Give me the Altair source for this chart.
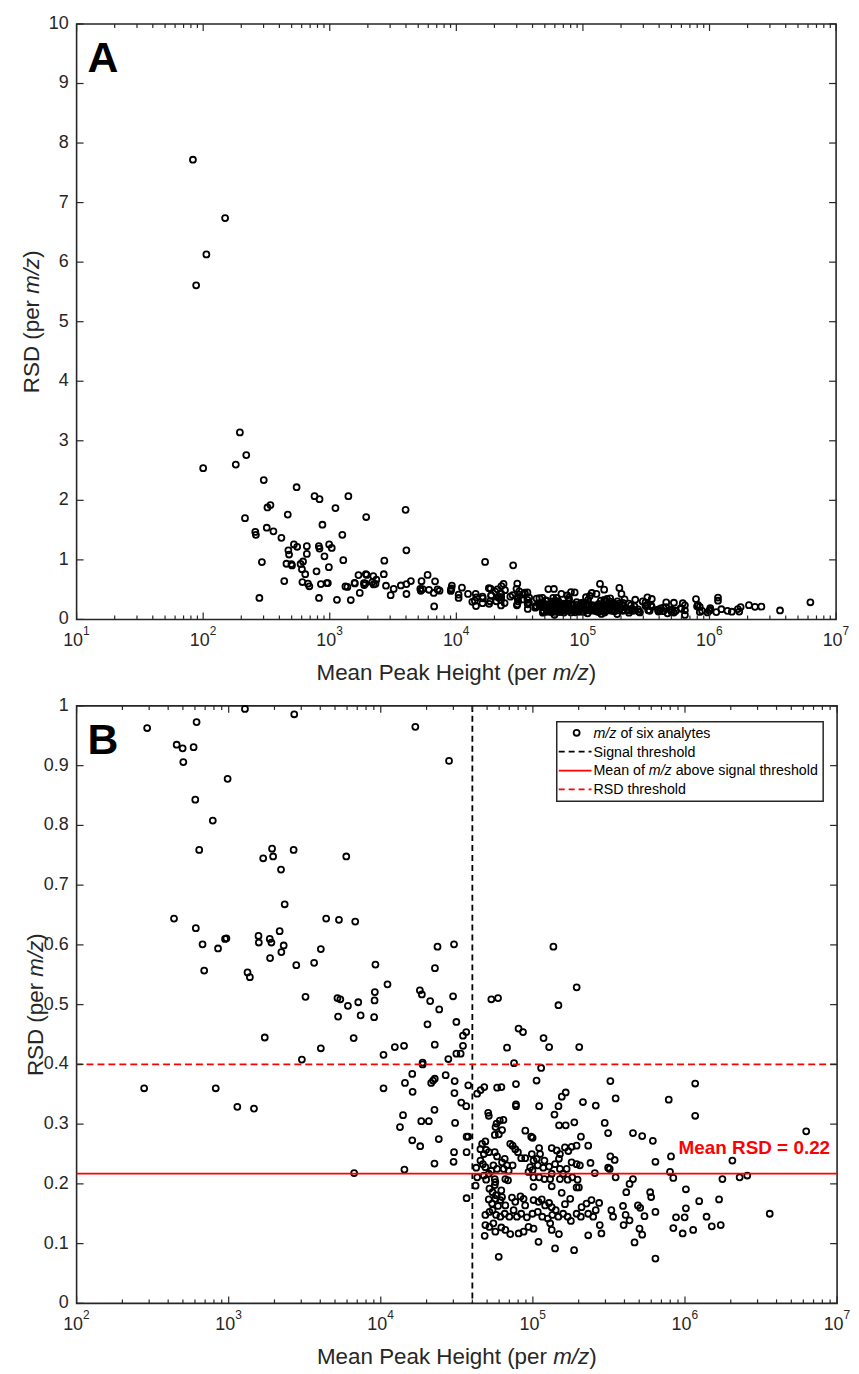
import altair as alt
import pandas as pd

# ---------------- data ----------------
# (mean peak height, RSD) -- points with RSD > 1, visible only in panel A
high_rsd = [(83, 7.72), (149, 6.74), (106, 6.13), (88, 5.61), (195, 3.14), (100, 2.54), (181, 2.60),
            (219, 2.76), (301, 2.34), (547, 2.22), (758, 2.07), (830, 2.02), (1403, 2.07), (1109, 1.87),
            (322, 1.88), (340, 1.92), (3972, 1.84), (214, 1.70), (466, 1.76), (1940, 1.72), (875, 1.59),
            (258, 1.47), (261, 1.42), (318, 1.54), (359, 1.48), (1257, 1.42), (415, 1.37), (521, 1.26),
            (471, 1.16), (477, 1.09), (553, 1.22), (659, 1.23), (659, 1.10), (820, 1.23), (830, 1.19),
            (989, 1.26), (1037, 1.20), (4029, 1.16), (908, 1.06)]

low_signal_1 = [(1279, 0.995), (2698, 0.986), (291, 0.963), (615, 0.973), (455, 0.935), (498, 0.929),
                (588, 0.931), (503, 0.906), (984, 0.878), (603, 0.843), (786, 0.808), (640, 0.759),
                (1928, 0.761), (1686, 0.745), (1959, 0.748), (2672, 0.759), (2208, 0.726), (2334, 0.668),
                (437, 0.644), (608, 0.628), (4373, 0.644), (673, 0.601), (851, 0.594), (946, 0.610),
                (966, 0.611), (1570, 0.615), (1578, 0.604), (1862, 0.610), (1909, 0.604), (2163, 0.623),
                (2299, 0.599), (2220, 0.588), (1871, 0.578), (2782, 0.566), (3645, 0.570), (4035, 0.593),
                (690, 0.557), (1330, 0.554), (1378, 0.546), (3199, 0.513), (1726, 0.445), (4035, 0.427),
                (3028, 0.408), (278, 0.360), (822, 0.360), (1140, 0.329), (1466, 0.326)]

low_signal_2 = [(16870, 0.965), (28100, 0.908), (5930, 0.748), (5309, 0.642), (6790, 0.639), (23600, 0.597),
                (30300, 0.601), (9220, 0.567), (22700, 0.561), (11070, 0.534), (5190, 0.511), (5420, 0.509),
                (6080, 0.498), (7110, 0.504), (9140, 0.521), (9100, 0.507), (5240, 0.480), (7370, 0.482),
                (9040, 0.479), (6630, 0.444), (18070, 0.524), (18620, 0.517), (21120, 0.506), (29870, 0.514),
                (24220, 0.492), (20280, 0.467), (31400, 0.471), (34700, 0.448), (36450, 0.454), (34700, 0.431),
                (10420, 0.416), (12370, 0.429), (14220, 0.431), (22640, 0.433), (31400, 0.418), (33500, 0.418),
                (27800, 0.409), (18840, 0.403), (18840, 0.400), (16100, 0.384), (14420, 0.369), (16190, 0.354),
                (10420, 0.360), (21440, 0.369), (22060, 0.373), (22640, 0.376), (26700, 0.382), (30600, 0.372),
                (30500, 0.352), (37600, 0.365), (33800, 0.336), (36450, 0.330), (14000, 0.315), (13370, 0.295),
                (18450, 0.305), (20700, 0.305), (22540, 0.324), (30800, 0.302), (16100, 0.273), (18160, 0.263),
                (24060, 0.275), (30300, 0.253), (30100, 0.237), (22540, 0.234), (14300, 0.224), (6680, 0.218),
                (36650, 0.279), (37500, 0.279), (36650, 0.253), (36650, 0.176)]

above_signal_1 = [(42000, 0.197), (42400, 0.227), (53300, 0.509), (59000, 0.511), (147200, 0.499),
                  (80500, 0.460), (86100, 0.454), (117500, 0.444), (127900, 0.429), (67600, 0.428),
                  (201700, 0.429), (75200, 0.402), (113300, 0.394), (105700, 0.373), (43000, 0.351),
                  (45300, 0.357), (47900, 0.362), (58200, 0.361), (62100, 0.362), (77400, 0.367),
                  (77400, 0.333), (77400, 0.330), (109900, 0.330), (50800, 0.319), (51300, 0.314),
                  (138600, 0.316), (147300, 0.330), (154900, 0.346), (164400, 0.353), (213400, 0.337),
                  (148600, 0.298), (164400, 0.298), (187300, 0.303), (57700, 0.301), (60600, 0.306),
                  (64000, 0.307), (56800, 0.295), (62700, 0.290), (56200, 0.282), (59700, 0.283),
                  (89200, 0.289), (97500, 0.279), (99600, 0.277), (207000, 0.279), (194000, 0.529),
                  (136400, 0.597)]

above_signal_2 = [(46400, 0.267), (48700, 0.271), (45200, 0.258), (49270, 0.257), (47600, 0.250),
                  (51300, 0.253), (56150, 0.253), (58130, 0.246), (71000, 0.267), (73600, 0.264),
                  (76600, 0.258), (79730, 0.253), (83800, 0.243), (89000, 0.243), (98400, 0.250),
                  (101000, 0.239), (106100, 0.242), (109900, 0.260), (111500, 0.250), (119100, 0.239),
                  (133000, 0.260), (143400, 0.256), (150600, 0.250), (148300, 0.242), (162500, 0.261),
                  (171000, 0.255), (179700, 0.262), (193800, 0.264),
                  (45200, 0.239), (46900, 0.233), (48700, 0.228), (53300, 0.222), (55000, 0.231),
                  (58130, 0.225), (62690, 0.236), (65300, 0.242), (67580, 0.231), (64300, 0.225),
                  (69300, 0.222), (73600, 0.231), (96000, 0.228), (99400, 0.223), (107700, 0.231),
                  (117000, 0.227), (127800, 0.229), (139900, 0.233), (150600, 0.225), (166700, 0.225),
                  (179700, 0.236), (193800, 0.233), (203700, 0.231)]

above_signal_3 = [(43050, 0.211), (47600, 0.214), (49270, 0.207), (51300, 0.217), (56150, 0.208),
                  (56650, 0.203), (65900, 0.208), (68600, 0.206), (93600, 0.220), (101000, 0.211),
                  (109900, 0.211), (119100, 0.208), (129900, 0.208), (133000, 0.217), (150600, 0.208),
                  (158000, 0.217), (169300, 0.207), (181500, 0.211), (196700, 0.207),
                  (51800, 0.192), (54300, 0.186), (56150, 0.198), (57270, 0.181), (62000, 0.189),
                  (101000, 0.195), (133000, 0.196), (154600, 0.185), (193800, 0.194), (200600, 0.194)]

above_signal_4 = [(51300, 0.174), (53900, 0.167), (56650, 0.175), (59020, 0.163), (61100, 0.173),
                  (62690, 0.178), (65900, 0.164), (72850, 0.177), (76600, 0.170), (82900, 0.179),
                  (86900, 0.175), (89000, 0.164), (101000, 0.173), (108900, 0.170), (114400, 0.174),
                  (120300, 0.164), (127800, 0.168), (133000, 0.161), (141300, 0.156), (162500, 0.166),
                  (176000, 0.175), (208900, 0.161),
                  (48700, 0.148), (51800, 0.153), (54300, 0.156), (57270, 0.148), (61100, 0.145),
                  (65300, 0.150), (70000, 0.145), (74700, 0.156), (78520, 0.145), (83800, 0.150),
                  (91300, 0.144), (99400, 0.150), (107700, 0.153), (115200, 0.145), (125300, 0.142),
                  (134300, 0.148), (147000, 0.145), (158000, 0.150), (169300, 0.145), (177700, 0.138),
                  (193800, 0.150), (206800, 0.145),
                  (48700, 0.131), (51800, 0.128), (55000, 0.134), (56650, 0.120), (62000, 0.127),
                  (65900, 0.123), (71000, 0.116), (80600, 0.117), (86900, 0.120), (93600, 0.128),
                  (101000, 0.125), (129900, 0.134), (133000, 0.123), (148300, 0.116), (48200, 0.113),
                  (108900, 0.103), (139900, 0.092), (186600, 0.089), (59600, 0.078)]

above_signal_5 = [(323200, 0.372), (1167000, 0.368), (259000, 0.331), (350000, 0.343), (782000, 0.341),
                  (1167000, 0.314), (296700, 0.302), (312300, 0.285), (455000, 0.285), (523200, 0.280),
                  (614800, 0.272), (231100, 0.264), (323200, 0.246), (344900, 0.240), (239200, 0.235),
                  (312300, 0.227), (319900, 0.225), (639300, 0.237), (809300, 0.246), (2049000, 0.239),
                  (255300, 0.218), (350000, 0.211), (455000, 0.208), (432100, 0.200), (411200, 0.186),
                  (797300, 0.220), (837900, 0.210), (1762000, 0.208), (2287000, 0.211), (1014000, 0.191),
                  (590200, 0.186), (599100, 0.178), (242800, 0.173), (272700, 0.168), (225200, 0.167),
                  (259000, 0.156), (231100, 0.150), (249200, 0.145), (275200, 0.131), (282300, 0.117),
                  (231100, 0.114), (328100, 0.156), (336700, 0.145), (391300, 0.163), (407000, 0.148),
                  (432100, 0.139), (394900, 0.131), (490300, 0.164), (507600, 0.160), (541600, 0.146),
                  (639300, 0.153), (502300, 0.125), (523200, 0.115), (465900, 0.102), (639300, 0.075),
                  (873000, 0.144), (994800, 0.144), (1014000, 0.159), (837900, 0.126), (965400, 0.117),
                  (1132000, 0.123), (1240000, 0.171), (1386000, 0.145), (1500000, 0.129), (1718000, 0.131),
                  (1675000, 0.174), (6266000, 0.288), (2568000, 0.214), (3607000, 0.150)]

signal_threshold = 4.0e4
mean_rsd = 0.217
rsd_threshold = 0.4

decades_a = [1e1, 1e2, 1e3, 1e4, 1e5, 1e6, 1e7]
exponents_a = ["1", "2", "3", "4", "5", "6", "7"]
decades_b = [1e2, 1e3, 1e4, 1e5, 1e6, 1e7]
exponents_b = ["2", "3", "4", "5", "6", "7"]
minor_mult = [2, 3, 4, 5, 6, 7, 8, 9]
yticks_a = [0, 1, 2, 3, 4, 5, 6, 7, 8, 9, 10]
ylabels_a = ["0", "1", "2", "3", "4", "5", "6", "7", "8", "9", "10"]
yticks_b = [0, 0.1, 0.2, 0.3, 0.4, 0.5, 0.6, 0.7, 0.8, 0.9, 1]
ylabels_b = ["0", "0.1", "0.2", "0.3", "0.4", "0.5", "0.6", "0.7", "0.8", "0.9", "1"]

# ---------------- chart ----------------
FONT = "Liberation Sans"
AX = "#262626"
RED = "#FF0000"
PT_SIZE = 36
PT_STROKE = 1.8

all_points = (high_rsd + low_signal_1 + low_signal_2 + above_signal_1 + above_signal_2
              + above_signal_3 + above_signal_4 + above_signal_5)
df = pd.DataFrame(all_points, columns=["height", "rsd"])
one = pd.DataFrame({"k": [0]})


def txt(s, x, y, size, italic=False, bold=False, align="left", angle=None, color=AX):
    kw = dict(text=s, font=FONT, fontSize=size, color=color, align=align, baseline="alphabetic")
    if italic:
        kw["fontStyle"] = "italic"
    if bold:
        kw["fontWeight"] = "bold"
    if angle is not None:
        kw["angle"] = angle
    return alt.Chart(one).mark_text(**kw).encode(x=alt.value(x), y=alt.value(y))


def panel(W, H, xdom, ydom, dec, exps, yt, ylab, letter, letter_x, ytitle_x, only_low=False):
    xs = alt.Scale(type="log", domain=xdom, nice=False)
    ys = alt.Scale(domain=ydom, nice=False)
    src = alt.Chart(df)
    if only_low:
        src = src.transform_filter("datum.rsd <= 1")
    pts = src.mark_point(shape="circle", filled=False, size=PT_SIZE, strokeWidth=PT_STROKE,
                         color="black", opacity=1).encode(
        x=alt.X("height:Q", scale=xs, axis=None),
        y=alt.Y("rsd:Q", scale=ys, axis=None))
    dec_df = pd.DataFrame({"v": dec, "e": exps})
    minor_df = pd.DataFrame({"v": [m * d for d in dec[:-1] for m in minor_mult]})
    yt_df = pd.DataFrame({"v": yt, "lab": ylab})

    def xrule(d, y1, y2):
        return alt.Chart(d).mark_rule(color=AX, strokeWidth=1.2).encode(
            x=alt.X("v:Q", scale=xs, axis=None), y=alt.value(y1), y2=alt.value(y2))

    def yrule(x1, x2):
        return alt.Chart(yt_df).mark_rule(color=AX, strokeWidth=1.2).encode(
            y=alt.Y("v:Q", scale=ys, axis=None), x=alt.value(x1), x2=alt.value(x2))

    ticks = [xrule(dec_df, H, H - 7), xrule(dec_df, 0, 7), xrule(minor_df, H, H - 4),
             xrule(minor_df, 0, 4), yrule(0, 7), yrule(W, W - 7)]
    ylabels = alt.Chart(yt_df).mark_text(font=FONT, fontSize=18, color=AX, align="right",
                                         baseline="middle").encode(
        y=alt.Y("v:Q", scale=ys, axis=None), x=alt.value(-8), text="lab:N")
    lab10 = alt.Chart(dec_df).mark_text(text="10", font=FONT, fontSize=18, color=AX, align="center",
                                        baseline="alphabetic", dx=-3.5).encode(
        x=alt.X("v:Q", scale=xs, axis=None), y=alt.value(H + 27))
    labexp = alt.Chart(dec_df).mark_text(font=FONT, fontSize=12, color=AX, align="left",
                                         baseline="alphabetic", dx=6.5).encode(
        x=alt.X("v:Q", scale=xs, axis=None), y=alt.value(H + 16), text="e:N")
    # x title: "Mean Peak Height (per m/z)"
    fs = 22.5
    start = W / 2 - 12.504 * fs / 2
    mz_x = start + 10.56 * fs
    xt = [txt("Mean Peak Height (per", start, H + 61, fs),
          txt("m/z", mz_x, H + 61, fs, italic=True),
          txt(")", mz_x + 1.611 * fs, H + 61, fs)]
    # y title: "RSD (per m/z)" rotated
    bottom = H / 2 + 6.389 * fs / 2
    mz_y = bottom - 4.445 * fs
    yt_t = [txt("RSD (per", ytitle_x, bottom, fs, angle=270),
            txt("m/z", ytitle_x, mz_y, fs, italic=True, angle=270),
            txt(")", ytitle_x, mz_y - 1.611 * fs, fs, angle=270)]
    let = txt(letter, letter_x, 48, 43, bold=True, color="black")
    return xs, ys, [pts] + ticks + [ylabels, lab10, labexp] + xt + yt_t + [let]


WA, HA = 764, 599
WB, HB = 765, 601

_, _, layers_a = panel(WA, HA, [10, 1e7], [0, 10], decades_a, exponents_a, yticks_a, ylabels_a,
                       "A", 11, -38)
chart_a = alt.layer(*layers_a).properties(width=WA, height=HA)

xs_b, ys_b, layers_b = panel(WB, HB, [100, 1e7], [0, 1], decades_b, exponents_b, yticks_b, ylabels_b,
                             "B", 11, -34, only_low=True)

vline = alt.Chart(pd.DataFrame({"x": [signal_threshold]})).mark_rule(
    color="black", strokeDash=[6, 4], strokeWidth=1.8).encode(x=alt.X("x:Q", scale=xs_b, axis=None))
hmean = alt.Chart(pd.DataFrame({"y": [mean_rsd]})).mark_rule(color=RED, strokeWidth=1.8).encode(
    y=alt.Y("y:Q", scale=ys_b, axis=None))
hrsd = alt.Chart(pd.DataFrame({"y": [rsd_threshold]})).mark_rule(
    color=RED, strokeWidth=1.8, strokeDash=[7, 4]).encode(y=alt.Y("y:Q", scale=ys_b, axis=None))
mean_label = txt("Mean RSD = 0.22", WB - 7, 451, 19, bold=True, align="right", color=RED)

# legend (panel B)
lg_box = alt.Chart(one).mark_rect(fill="white", stroke=AX, strokeWidth=1.5).encode(
    x=alt.value(483), x2=alt.value(751), y=alt.value(16), y2=alt.value(96))
lg_pt = alt.Chart(one).mark_point(shape="circle", filled=False, size=PT_SIZE, strokeWidth=PT_STROKE,
                                  color="black", opacity=1).encode(x=alt.value(503), y=alt.value(27))
lg_l1 = alt.Chart(one).mark_rule(color="black", strokeWidth=1.8, strokeDash=[6, 4]).encode(
    x=alt.value(485), x2=alt.value(518), y=alt.value(46))
lg_l2 = alt.Chart(one).mark_rule(color=RED, strokeWidth=1.8).encode(
    x=alt.value(485), x2=alt.value(518), y=alt.value(65))
lg_l3 = alt.Chart(one).mark_rule(color=RED, strokeWidth=1.8, strokeDash=[6, 4]).encode(
    x=alt.value(485), x2=alt.value(518), y=alt.value(84))
LF = 14.3
lg_txt = [txt("m/z", 520, 32, LF, italic=True, color="black"),
          txt("of six analytes", 520 + 1.889 * LF, 32, LF, color="black"),
          txt("Signal threshold", 520, 51, LF, color="black"),
          txt("Mean of", 520, 70, LF, color="black"),
          txt("m/z", 520 + 3.891 * LF, 70, LF, italic=True, color="black"),
          txt("above signal threshold", 520 + (3.891 + 1.889) * LF, 70, LF, color="black"),
          txt("RSD threshold", 520, 89, LF, color="black")]

chart_b = alt.layer(*(layers_b[:1] + [vline, hmean, hrsd] + layers_b[1:] + [mean_label, lg_box, lg_pt,
                                                                              lg_l1, lg_l2, lg_l3] + lg_txt)
                    ).properties(width=WB, height=HB)

chart = alt.concat(chart_a, chart_b, columns=1, spacing=10, align="none").properties(
    padding={"left": 12, "top": 2, "right": 0, "bottom": 0}
).configure_view(stroke=AX, strokeWidth=1.6)

chart.save("out.html", embed_options={"renderer": "svg", "actions": False})
